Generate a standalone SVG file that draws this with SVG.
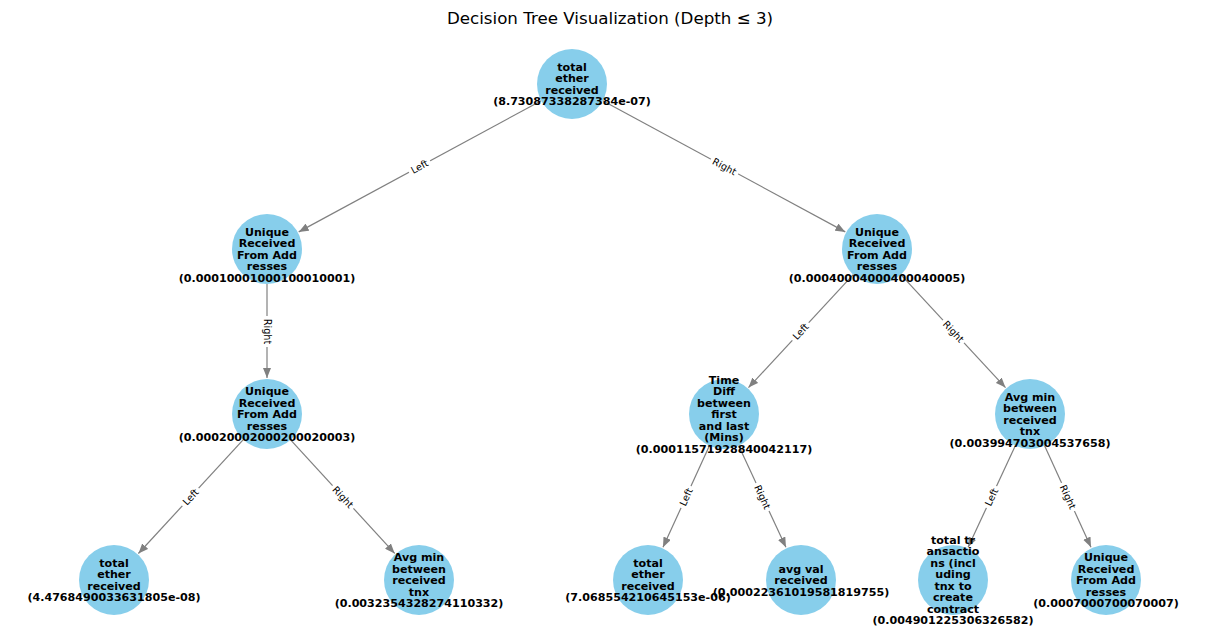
<svg xmlns="http://www.w3.org/2000/svg" width="1220" height="642" viewBox="0 0 1220 642">
<defs>
<marker id="arr" viewBox="0 0 10 8" refX="10" refY="4" markerWidth="10" markerHeight="8" markerUnits="userSpaceOnUse" orient="auto">
<path d="M0,0 L10,4 L0,8 Z" fill="#808080"/>
</marker>
</defs>
<style>
.e{stroke:#808080;stroke-width:1.2;fill:none;marker-end:url(#arr)}
.n{fill:#87CEEB}
.t{font-family:"DejaVu Sans",sans-serif;font-weight:bold;font-size:11.1px;text-anchor:middle;fill:#000}
.lb{fill:#fff}
.lt{font-family:"DejaVu Sans",sans-serif;font-size:9.7px;text-anchor:middle;dominant-baseline:central;fill:#000}
.title{font-family:"DejaVu Sans",sans-serif;font-size:16.7px;text-anchor:middle;fill:#000}
</style>
<rect width="1220" height="642" fill="#fff"/>
<text class="title" x="610" y="24">Decision Tree Visualization (Depth ≤ 3)</text>
<g id="edges">
<line class="e" x1="541.2" y1="100.7" x2="298.7" y2="231.9"/>
<line class="e" x1="602.8" y1="100.7" x2="845.3" y2="231.9"/>
<line class="e" x1="267" y1="284" x2="267" y2="378"/>
<line class="e" x1="243.3" y1="439.7" x2="138.4" y2="553.5"/>
<line class="e" x1="290.6" y1="439.8" x2="394.7" y2="553.4"/>
<line class="e" x1="853.2" y1="274.7" x2="748.5" y2="387.6"/>
<line class="e" x1="900.8" y1="274.7" x2="1005.5" y2="387.6"/>
<line class="e" x1="709.4" y1="445.8" x2="663.0" y2="547.3"/>
<line class="e" x1="738.7" y1="445.7" x2="785.9" y2="547.3"/>
<line class="e" x1="1015.3" y1="445.7" x2="968.1" y2="547.3"/>
<line class="e" x1="1044.6" y1="445.8" x2="1091.0" y2="547.3"/>
</g>
<g id="edge-labels">
<g transform="translate(419.5,166.5) rotate(-28.4)"><rect class="lb" x="-12" y="-6.5" width="24" height="13" rx="3"/><text class="lt" x="0" y="0">Left</text></g>
<g transform="translate(724.5,166.5) rotate(28.4)"><rect class="lb" x="-15.5" y="-6.5" width="31" height="13" rx="3"/><text class="lt" x="0" y="0">Right</text></g>
<g transform="translate(267,331.5) rotate(90)"><rect class="lb" x="-15.5" y="-6.5" width="31" height="13" rx="3"/><text class="lt" x="0" y="0">Right</text></g>
<g transform="translate(190.5,497) rotate(-47.3)"><rect class="lb" x="-12" y="-6.5" width="24" height="13" rx="3"/><text class="lt" x="0" y="0">Left</text></g>
<g transform="translate(343,497) rotate(47.5)"><rect class="lb" x="-15.5" y="-6.5" width="31" height="13" rx="3"/><text class="lt" x="0" y="0">Right</text></g>
<g transform="translate(800.5,331.5) rotate(-47.2)"><rect class="lb" x="-12" y="-6.5" width="24" height="13" rx="3"/><text class="lt" x="0" y="0">Left</text></g>
<g transform="translate(953.5,331.5) rotate(47.2)"><rect class="lb" x="-15.5" y="-6.5" width="31" height="13" rx="3"/><text class="lt" x="0" y="0">Right</text></g>
<g transform="translate(686,497) rotate(-65.4)"><rect class="lb" x="-12" y="-6.5" width="24" height="13" rx="3"/><text class="lt" x="0" y="0">Left</text></g>
<g transform="translate(762.5,497) rotate(65.1)"><rect class="lb" x="-15.5" y="-6.5" width="31" height="13" rx="3"/><text class="lt" x="0" y="0">Right</text></g>
<g transform="translate(991.5,497) rotate(-65.1)"><rect class="lb" x="-12" y="-6.5" width="24" height="13" rx="3"/><text class="lt" x="0" y="0">Left</text></g>
<g transform="translate(1068,497) rotate(65.4)"><rect class="lb" x="-15.5" y="-6.5" width="31" height="13" rx="3"/><text class="lt" x="0" y="0">Right</text></g>
</g>
<g id="circles">
<circle class="n" cx="572" cy="84" r="35"/>
<circle class="n" cx="267" cy="249" r="35"/>
<circle class="n" cx="877" cy="249" r="35"/>
<circle class="n" cx="267" cy="414" r="35"/>
<circle class="n" cx="724" cy="414" r="35"/>
<circle class="n" cx="1030" cy="414" r="35"/>
<circle class="n" cx="114" cy="580" r="35"/>
<circle class="n" cx="419" cy="580" r="35"/>
<circle class="n" cx="648" cy="580" r="35"/>
<circle class="n" cx="801" cy="580" r="35"/>
<circle class="n" cx="953" cy="580" r="35"/>
<circle class="n" cx="1106" cy="580" r="35"/>
</g>
<g id="node-root"><text class="t" x="572" y="70.75"><tspan x="572">total</tspan><tspan x="572" dy="11.5">ether</tspan><tspan x="572" dy="11.5">received</tspan><tspan x="572" dy="11.5">(8.73087338287384e-07)</tspan></text></g>
<g id="node-l"><text class="t" x="267" y="235.75"><tspan x="267">Unique</tspan><tspan x="267" dy="11.5">Received</tspan><tspan x="267" dy="11.5">From Add</tspan><tspan x="267" dy="11.5">resses</tspan><tspan x="267" dy="11.5">(0.00010001000100010001)</tspan></text></g>
<g id="node-r"><text class="t" x="877" y="235.75"><tspan x="877">Unique</tspan><tspan x="877" dy="11.5">Received</tspan><tspan x="877" dy="11.5">From Add</tspan><tspan x="877" dy="11.5">resses</tspan><tspan x="877" dy="11.5">(0.00040004000400040005)</tspan></text></g>
<g id="node-lr"><text class="t" x="267" y="395"><tspan x="267">Unique</tspan><tspan x="267" dy="11.5">Received</tspan><tspan x="267" dy="11.5">From Add</tspan><tspan x="267" dy="11.5">resses</tspan><tspan x="267" dy="11.5">(0.00020002000200020003)</tspan></text></g>
<g id="node-rl"><text class="t" x="724" y="383.5"><tspan x="724">Time</tspan><tspan x="724" dy="11.5">Diff</tspan><tspan x="724" dy="11.5">between</tspan><tspan x="724" dy="11.5">first</tspan><tspan x="724" dy="11.5">and last</tspan><tspan x="724" dy="11.5">(Mins)</tspan><tspan x="724" dy="11.5">(0.00011571928840042117)</tspan></text></g>
<g id="node-rr"><text class="t" x="1030" y="400.75"><tspan x="1030">Avg min</tspan><tspan x="1030" dy="11.5">between</tspan><tspan x="1030" dy="11.5">received</tspan><tspan x="1030" dy="11.5">tnx</tspan><tspan x="1030" dy="11.5">(0.003994703004537658)</tspan></text></g>
<g id="node-lrl"><text class="t" x="114" y="566.75"><tspan x="114">total</tspan><tspan x="114" dy="11.5">ether</tspan><tspan x="114" dy="11.5">received</tspan><tspan x="114" dy="11.5">(4.4768490033631805e-08)</tspan></text></g>
<g id="node-lrr"><text class="t" x="419" y="561"><tspan x="419">Avg min</tspan><tspan x="419" dy="11.5">between</tspan><tspan x="419" dy="11.5">received</tspan><tspan x="419" dy="11.5">tnx</tspan><tspan x="419" dy="11.5">(0.0032354328274110332)</tspan></text></g>
<g id="node-rll"><text class="t" x="648" y="566.75"><tspan x="648">total</tspan><tspan x="648" dy="11.5">ether</tspan><tspan x="648" dy="11.5">received</tspan><tspan x="648" dy="11.5">(7.068554210645153e-06)</tspan></text></g>
<g id="node-rlr"><text class="t" x="801" y="572.5"><tspan x="801">avg val</tspan><tspan x="801" dy="11.5">received</tspan><tspan x="801" dy="11.5">(0.00022361019581819755)</tspan></text></g>
<g id="node-rrl"><text class="t" x="953" y="543.75"><tspan x="953">total tr</tspan><tspan x="953" dy="11.5">ansactio</tspan><tspan x="953" dy="11.5">ns (incl</tspan><tspan x="953" dy="11.5">uding</tspan><tspan x="953" dy="11.5">tnx to</tspan><tspan x="953" dy="11.5">create</tspan><tspan x="953" dy="11.5">contract</tspan><tspan x="953" dy="11.5">(0.004901225306326582)</tspan></text></g>
<g id="node-rrr"><text class="t" x="1106" y="561"><tspan x="1106">Unique</tspan><tspan x="1106" dy="11.5">Received</tspan><tspan x="1106" dy="11.5">From Add</tspan><tspan x="1106" dy="11.5">resses</tspan><tspan x="1106" dy="11.5">(0.0007000700070007)</tspan></text></g>
</svg>
